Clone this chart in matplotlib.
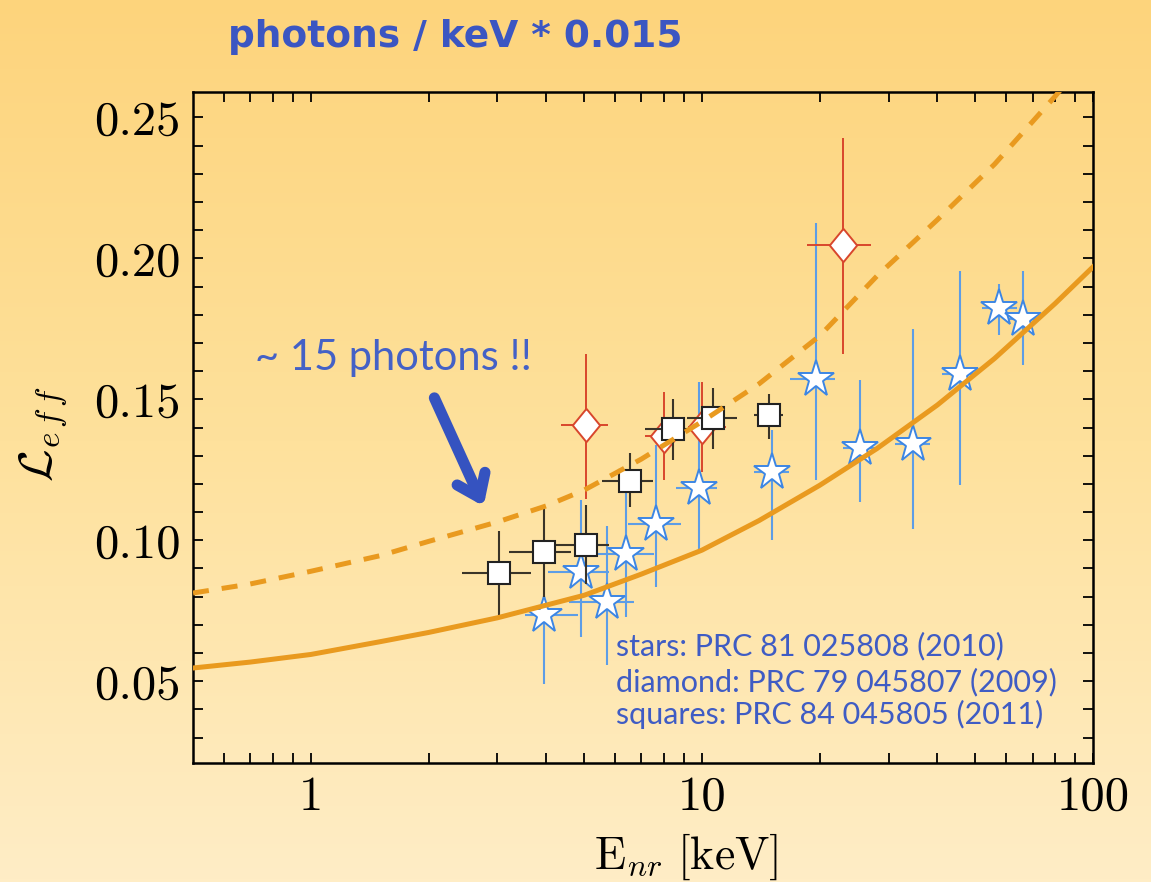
import numpy as np
import matplotlib
matplotlib.use("Agg")
import matplotlib.pyplot as plt
from matplotlib.ticker import FixedLocator, NullFormatter, MultipleLocator
from matplotlib.colors import LinearSegmentedColormap

plt.rcParams['mathtext.fontset'] = 'cm'
plt.rcParams['font.family'] = 'serif'
plt.rcParams['font.serif'] = ['cmr10', 'DejaVu Serif']
plt.rcParams['axes.formatter.use_mathtext'] = True

# --- data ---
# squares: PRC 84 045805 (2011)
sq_x = [3.03, 3.95, 5.06, 6.53, 8.42, 10.7, 14.85]
sq_y = [0.0884, 0.0959, 0.0985, 0.121, 0.1393, 0.1434, 0.1443]
sq_xlo = [2.43, 3.22, 4.20, 5.56, 7.15, 9.16, 13.55]
sq_xhi = [3.65, 4.63, 5.80, 7.51, 9.47, 12.26, 16.07]
sq_ylo = [0.0734, 0.0799, 0.0846, 0.1118, 0.1284, 0.1322, 0.1361]
sq_yhi = [0.1033, 0.1112, 0.1124, 0.131, 0.150, 0.1541, 0.1520]

# diamonds: PRC 79 045807 (2009)
dm_x = [5.06, 7.99, 10.0, 22.9]
dm_y = [0.141, 0.1369, 0.1402, 0.2046]
dm_xlo = [4.35, 7.15, 9.2, 18.6]
dm_xhi = [5.75, 8.9, 11.5, 27.1]
dm_ylo = [0.1145, 0.1213, 0.1242, 0.1662]
dm_yhi = [0.166, 0.1526, 0.1561, 0.2426]

# stars: PRC 81 025808 (2010)
st_x = [3.95, 4.91, 5.72, 6.40, 7.63, 9.84, 15.09, 19.54, 25.4, 34.6, 45.8, 57.3, 66.3]
st_y = [0.0735, 0.0888, 0.0781, 0.095, 0.1059, 0.1187, 0.1242, 0.1573, 0.1329,
        0.1343, 0.1589, 0.1825, 0.1786]
st_xlo = [3.52, 4.04, 4.58, 5.11, 6.46, 8.58, 13.6, 16.8, 22.9, 31.1, 41.2, 51.9, 60.0]
st_xhi = [4.82, 5.80, 6.72, 7.55, 8.83, 10.9, 16.7, 21.85, 28.1, 38.3, 50.3, 63.9, 72.7]
st_ylo = [0.0489, 0.0657, 0.0557, 0.0728, 0.0834, 0.0965, 0.100, 0.1213, 0.1136,
          0.1041, 0.1196, 0.1727, 0.1621]
st_yhi = [0.0798, 0.1142, 0.105, 0.123, 0.1337, 0.1561, 0.139, 0.2125, 0.1567,
          0.175, 0.1955, 0.1908, 0.1955]

# solid and dashed curves
solid_x = [0.5, 0.7, 1, 1.5, 2, 3, 4, 5, 7, 10, 14, 20, 28, 40, 56, 80, 100]
solid_y = [0.0547, 0.0568, 0.0595, 0.0640, 0.0673, 0.0725, 0.0770, 0.0805,
           0.0880, 0.0965, 0.1070, 0.1195, 0.1325, 0.1480, 0.1645, 0.1840, 0.1970]
dash_x = [0.5, 0.7, 1, 1.5, 2, 3, 4, 5, 7, 10, 14, 20, 28, 40, 56, 80, 90]
dash_y = [0.0813, 0.0845, 0.0890, 0.0945, 0.0996, 0.1065, 0.1122, 0.1178,
          0.1288, 0.1421, 0.1555, 0.1725, 0.1937, 0.2137, 0.2334, 0.2575, 0.2660]

xticks = [1, 10, 100]
xtick_labels = ['1', '10', '100']
yticks = [0.05, 0.10, 0.15, 0.20, 0.25]
ytick_labels = ['0.05', '0.10', '0.15', '0.20', '0.25']

refs = ['stars: PRC 81 025808 (2010)',
        'diamond: PRC 79 045807 (2009)',
        'squares: PRC 84 045805 (2011)']

blue_txt = '#3b56c2'
orange = '#e99a1f'

fig = plt.figure(figsize=(11.51, 8.82), dpi=100)

# background gradient
bg = fig.add_axes([0, 0, 1, 1], zorder=-10)
cmap = LinearSegmentedColormap.from_list('bg', ['#fdd47c', '#fee19c', '#ffedc6'])
bg.imshow(np.linspace(0, 1, 256).reshape(-1, 1), aspect='auto', cmap=cmap,
          extent=[0, 1, 0, 1])
bg.axis('off')

ax = fig.add_axes([0.1677, 0.1349, 0.782, 0.7608])
ax.patch.set_alpha(0)
ax.set_xscale('log')
ax.set_xlim(0.5, 100)
ax.set_ylim(0.021, 0.259)


def errs(v, lo, hi):
    v = np.array(v)
    return [v - np.array(lo), np.array(hi) - v]


ax.errorbar(st_x, st_y, xerr=errs(st_x, st_xlo, st_xhi),
            yerr=errs(st_y, st_ylo, st_yhi), fmt='*', ms=28,
            mfc='white', mec='#3c86e4', mew=1.4, ecolor='#5d9de6',
            elinewidth=1.5, zorder=3)
diamond = [(0, 1), (0.82, 0), (0, -1), (-0.82, 0), (0, 1)]
ax.errorbar(dm_x, dm_y, xerr=errs(dm_x, dm_xlo, dm_xhi),
            yerr=errs(dm_y, dm_ylo, dm_yhi), fmt='none', ecolor='#d8462c',
            elinewidth=1.4, zorder=4)
ax.plot(dm_x, dm_y, ls='none', marker=diamond, ms=24, mfc='white',
        mec='#d8462c', mew=1.4, zorder=4.5)
ax.errorbar(sq_x, sq_y, xerr=errs(sq_x, sq_xlo, sq_xhi),
            yerr=errs(sq_y, sq_ylo, sq_yhi), fmt='s', ms=16, mfc='white',
            mec='#222222', mew=1.5, ecolor='#3a3428', elinewidth=1.5, zorder=5)

ax.plot(solid_x, solid_y, color=orange, lw=3.6, zorder=6)
ax.plot(dash_x, dash_y, color=orange, lw=3.6, ls=(0, (3.2, 2.6)), zorder=6)

# ticks
ax.xaxis.set_major_locator(FixedLocator(xticks))
ax.set_xticklabels(xtick_labels)
ax.xaxis.set_minor_locator(FixedLocator(
    [0.6, 0.7, 0.8, 0.9] + list(range(2, 10)) + list(range(20, 100, 10))))
ax.xaxis.set_minor_formatter(NullFormatter())
ax.set_yticks(yticks)
ax.set_yticklabels(ytick_labels)
ax.yaxis.set_minor_locator(MultipleLocator(0.01))
ax.tick_params(which='both', direction='in', top=True, right=True,
               length=7, width=1.3, color='black')
ax.tick_params(which='major', labelsize=35, pad=9)
for s in ax.spines.values():
    s.set_linewidth(1.8)

ax.set_xlabel(r'$\mathrm{E}_{nr}\ [\mathrm{keV}]$', fontsize=33)
ax.xaxis.set_label_coords(0.548, -0.102)
ax.set_ylabel(r'$\mathcal{L}_{e\,f\,f}$', fontsize=34)
ax.yaxis.set_label_coords(-0.137, 0.49)

# annotations
fig.text(0.198, 0.9467, 'photons / keV * 0.015', family='DejaVu Sans',
         weight='bold', fontsize=27, color=blue_txt, va='baseline')
ax.text(0.72, 0.1603, '~ 15 photons !!', family='Lato', fontsize=30,
        color='#4461c6', va='baseline')
ax.annotate('', xy=(2.784, 0.1112), xytext=(2.056, 0.1514),
            arrowprops=dict(arrowstyle='->, head_length=1.5, head_width=1.1',
                            lw=8, color='#3553c0', capstyle='round'),
            zorder=7)
for txt, yy in zip(refs, [0.0592, 0.0465, 0.0350]):
    ax.text(6.03, yy, txt, family='Lato', fontsize=22, color='#3f5cc4',
            va='baseline', zorder=8)

fig.savefig('out.png', dpi=100)
